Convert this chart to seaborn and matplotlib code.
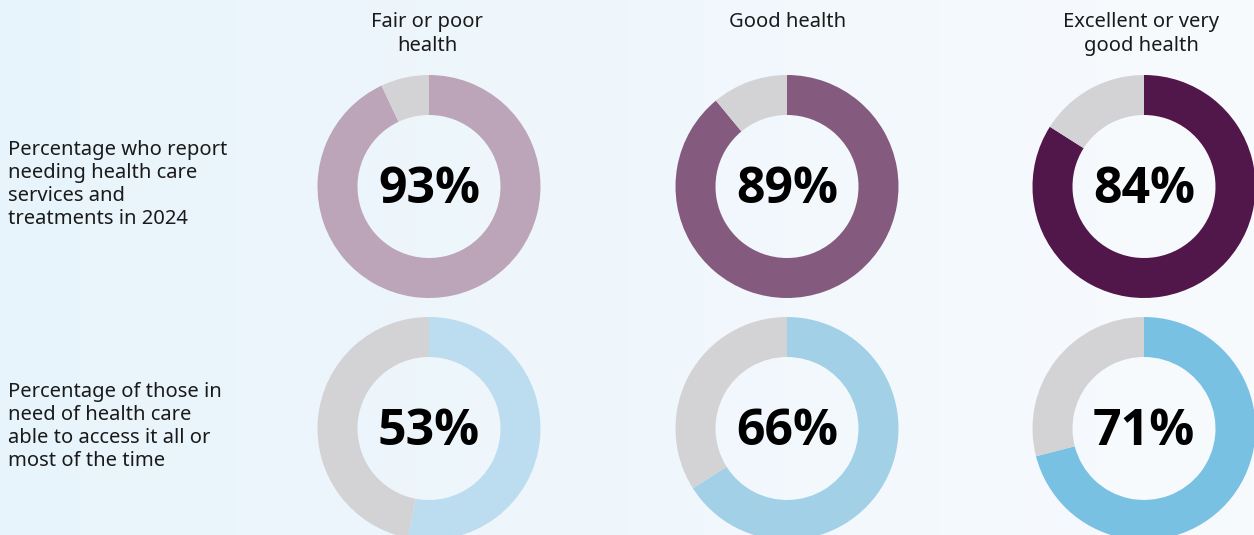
import numpy as np
import matplotlib
matplotlib.use("Agg")
import matplotlib.pyplot as plt
import seaborn as sns
from matplotlib.colors import LinearSegmentedColormap

# Health status groups (columns)
groups = ["Fair or poor\nhealth", "Good health", "Excellent or very\ngood health"]

# Row descriptions
row_labels = [
    "Percentage who report\nneeding health care\nservices and\ntreatments in 2024",
    "Percentage of those in\nneed of health care\nable to access it all or\nmost of the time",
]

# Percentages per row, one value per group
needing_care = [93, 89, 84]
able_to_access = [53, 66, 71]

need_colors = ["#bca4b9", "#845b7e", "#52174a"]
access_colors = ["#bcdcef", "#a2d0e7", "#79c1e2"]
rest_color = "#d3d3d5"

sns.set_theme(style="white")
plt.rcParams["font.family"] = ["Noto Sans", "DejaVu Sans"]

W, H = 1254, 535
fig = plt.figure(figsize=(W / 100, H / 100), dpi=100)

# Soft horizontal background gradient
bg = fig.add_axes([0, 0, 1, 1], zorder=0)
cmap = LinearSegmentedColormap.from_list("bg", ["#e8f4fb", "#f0f7fc", "#f8fbfe"])
bg.imshow(np.linspace(0, 1, 1024)[None, :], aspect="auto", cmap=cmap,
          extent=[0, 1, 0, 1], interpolation="bilinear")
bg.set_axis_off()

ax = fig.add_axes([0, 0, 1, 1], zorder=1)
ax.patch.set_alpha(0)

col_x = [429, 787, 1144]
row_y = [186.5, 428.5]
outer = 111.5
ring = 40

rows = [(needing_care, need_colors), (able_to_access, access_colors)]
for r, (values, colors) in enumerate(rows):
    cy = H - row_y[r]
    for c, (v, col) in enumerate(zip(values, colors)):
        cx = col_x[c]
        ax.pie([v, 100 - v], colors=[col, rest_color], startangle=90,
               counterclock=False, radius=outer, center=(cx, cy),
               wedgeprops=dict(width=ring, linewidth=0))
        ax.text(cx, cy - 3.5, f"{v}%", ha="center", va="center",
                fontsize=36, fontweight="bold", fontstyle="normal",
                color="black", family=["Open Sans", "DejaVu Sans"])

header_dx = [-2, 1, -3]
for c, g in enumerate(groups):
    ax.text(col_x[c] + header_dx[c], H - 12, g, ha="center", va="top",
            fontsize=14.5, color="#1a1a1a", linespacing=1.25)

label_top = [140, 382]
for r, lab in enumerate(row_labels):
    ax.text(8, H - label_top[r], lab, ha="left", va="top", fontsize=14.5,
            color="#1a1a1a", linespacing=1.2)

ax.set_xlim(0, W)
ax.set_ylim(0, H)
ax.set_aspect("equal")
ax.set_axis_off()

fig.savefig("out.png", dpi=100)
